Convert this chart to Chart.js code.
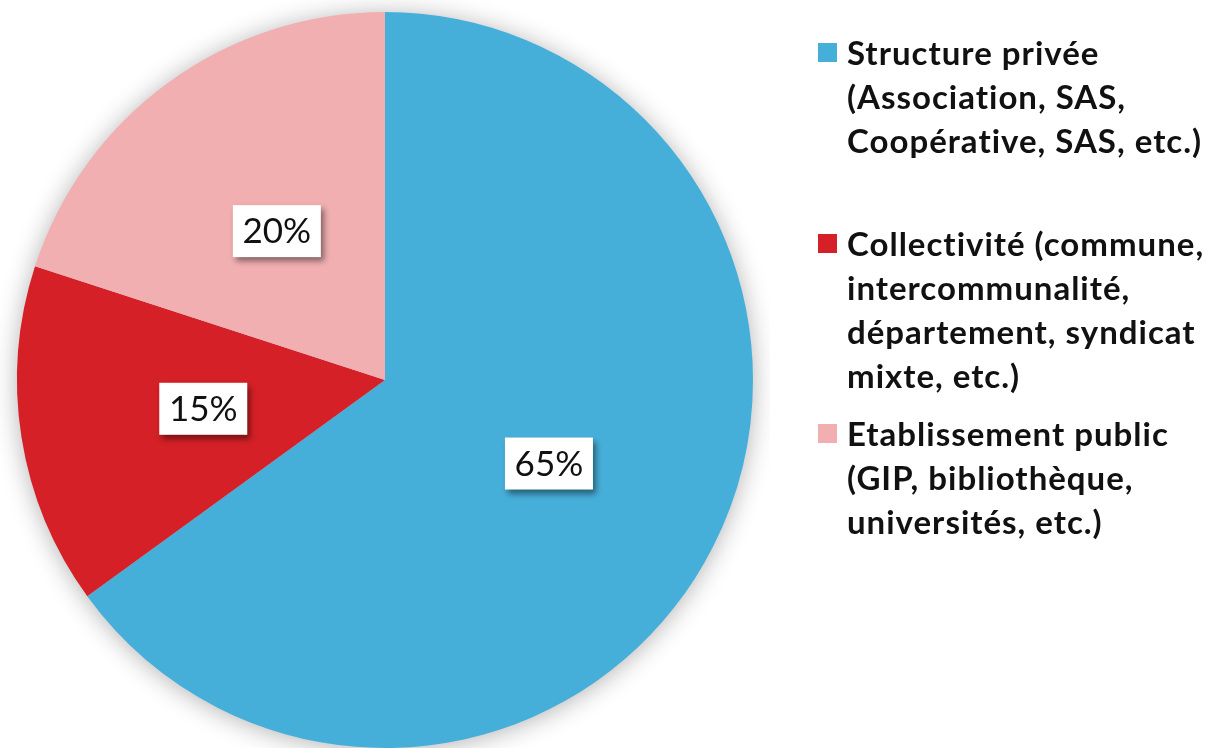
<!DOCTYPE html>
<html>
<head>
<meta charset="utf-8">
<script src="https://cdn.jsdelivr.net/npm/chart.js@4/dist/chart.umd.min.js"></script>
<style>
  html, body { margin: 0; padding: 0; background: #ffffff; }
  #wrap { position: relative; width: 1215px; height: 748px; overflow: hidden; }
  #chartBox { position: absolute; left: 0; top: 0; width: 770px; height: 748px; }
  #legend { position: absolute; left: 0; top: 0; width: 1215px; height: 748px; pointer-events: none;
            font-family: Lato, "Open Sans", sans-serif; font-weight: bold; font-size: 33px; line-height: 44px;
            letter-spacing: 1px; color: #111; }
  .item { position: absolute; left: 818px; width: 397px; }
  .sw { position: absolute; left: 0; top: 13px; width: 19px; height: 19px; }
  .txt { position: absolute; left: 29px; white-space: nowrap; }
</style>
</head>
<body>
<div id="wrap">
  <div id="chartBox"><canvas id="c"></canvas></div>
  <div id="legend"></div>
</div>
<script>
const categories = [
  ["Structure privée", "(Association, SAS,", "Coopérative, SAS, etc.)"],
  ["Collectivité (commune,", "intercommunalité,", "département, syndicat", "mixte, etc.)"],
  ["Etablissement public", "(GIP, bibliothèque,", "universités, etc.)"]
];
const values = [65, 15, 20];
const valueLabels = ["65%", "15%", "20%"];
const colors = ["#46afd9", "#d52027", "#f1afb1"];
const legendTops = [30, 221, 411];

// HTML legend
const legendEl = document.getElementById('legend');
categories.forEach((lines, i) => {
  const item = document.createElement('div');
  item.className = 'item';
  item.style.top = legendTops[i] + 'px';
  const sw = document.createElement('div');
  sw.className = 'sw';
  sw.style.background = colors[i];
  const txt = document.createElement('div');
  txt.className = 'txt';
  txt.innerHTML = lines.join('<br>');
  item.appendChild(sw);
  item.appendChild(txt);
  legendEl.appendChild(item);
});

const pieShadow = {
  id: 'pieShadow',
  beforeDatasetsDraw(chart) {
    const arc = chart.getDatasetMeta(0).data[0];
    if (!arc) return;
    const ctx = chart.ctx;
    ctx.save();
    ctx.shadowColor = 'rgba(0,0,0,0.32)';
    ctx.shadowBlur = 26;
    ctx.shadowOffsetX = 0;
    ctx.shadowOffsetY = 2;
    ctx.fillStyle = '#cccccc';
    ctx.beginPath();
    ctx.arc(arc.x, arc.y, arc.outerRadius - 1, 0, Math.PI * 2);
    ctx.fill();
    ctx.restore();
  }
};

const boxLabels = {
  id: 'boxLabels',
  afterDatasetsDraw(chart) {
    const meta = chart.getDatasetMeta(0);
    const ctx = chart.ctx;
    ctx.save();
    ctx.font = '35px Lato, "Open Sans", sans-serif';
    ctx.textAlign = 'center';
    ctx.textBaseline = 'middle';
    meta.data.forEach((arc, i) => {
      const mid = (arc.startAngle + arc.endAngle) / 2;
      const r = arc.outerRadius * 0.5;
      const x = arc.x + Math.cos(mid) * r;
      const y = arc.y + Math.sin(mid) * r;
      const w = 88, h = 52;
      ctx.save();
      ctx.shadowColor = 'rgba(0,0,0,0.45)';
      ctx.shadowBlur = 6;
      ctx.shadowOffsetX = 3;
      ctx.shadowOffsetY = 4;
      ctx.fillStyle = '#ffffff';
      ctx.fillRect(x - w / 2, y - h / 2, w, h);
      ctx.restore();
      ctx.fillStyle = '#111111';
      ctx.fillText(valueLabels[i], x, y + 1);
    });
    ctx.restore();
  }
};

new Chart(document.getElementById('c'), {
  type: 'pie',
  data: {
    labels: categories.map(l => l.join(' ')),
    datasets: [{
      data: values,
      backgroundColor: colors,
      borderWidth: 0,
      hoverOffset: 0
    }]
  },
  options: {
    responsive: true,
    maintainAspectRatio: false,
    animation: false,
    layout: { padding: { top: 12, bottom: 0, left: 17, right: 17 } },
    plugins: {
      legend: { display: false },
      tooltip: { enabled: false }
    }
  },
  plugins: [pieShadow, boxLabels]
});
</script>
</body>
</html>
